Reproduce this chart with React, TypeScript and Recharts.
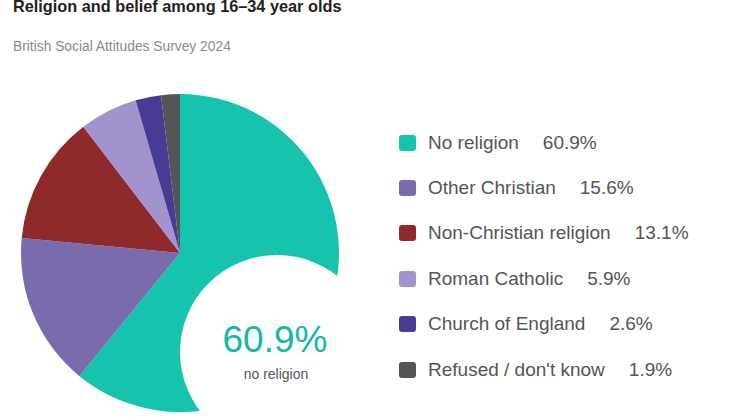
import React from "react";
import { PieChart, Pie, Cell } from "recharts";

const categories = [
  "No religion",
  "Other Christian",
  "Non-Christian religion",
  "Roman Catholic",
  "Church of England",
  "Refused / don't know",
];
const values = [60.9, 15.6, 13.1, 5.9, 2.6, 1.9];
const colors = ["#16C3AD", "#7A6BAC", "#8E2A2B", "#A293CE", "#473B93", "#555555"];
const title = "Religion and belief among 16–34 year olds";
const subtitle = "British Social Attitudes Survey 2024";
const highlightLabel = "no religion";

const data = categories.map((name, i) => ({ name, value: values[i], color: colors[i] }));

const FONT = "'Liberation Sans', Arial, sans-serif";

const LegendBlock = () => (
  <div style={{ position: "absolute", left: 399, top: 120, fontFamily: FONT }}>
    {data.map((d) => (
      <div key={d.name} style={{ display: "flex", alignItems: "center", height: 45.4 }}>
        <div
          style={{
            width: 17,
            height: 16,
            borderRadius: 3,
            background: d.color,
            marginRight: 12,
          }}
        />
        <span style={{ fontSize: 19, color: "#555555", whiteSpace: "pre" }}>{d.name}</span>
        <span style={{ fontSize: 19, color: "#555555", marginLeft: 24 }}>
          {d.value.toFixed(1)}%
        </span>
      </div>
    ))}
  </div>
);

const Overlay = () => (
  <svg
    width={744}
    height={418}
    style={{ position: "absolute", left: 0, top: 0, pointerEvents: "none" }}
  >
    <circle cx={277} cy={352} r={97} fill="#ffffff" />
    <text x={275} y={352} textAnchor="middle" fontFamily={FONT} fontSize={37} fill="#16B8A4">
      {values[0].toFixed(1)}%
    </text>
    <text x={276} y={379} textAnchor="middle" fontFamily={FONT} fontSize={14} fill="#555555">
      {highlightLabel}
    </text>
    <text x={13} y={12} fontFamily={FONT} fontSize={16.3} fontWeight="bold" fill="#222222">
      {title}
    </text>
    <text x={13} y={51} fontFamily={FONT} fontSize={13.8} fill="#8a8a8a">
      {subtitle}
    </text>
  </svg>
);

export default function App() {
  return (
    <div style={{ position: "absolute", left: 0, top: 0, width: 744, height: 418, background: "#fff" }}>
      <PieChart width={744} height={418} margin={{ top: 0, right: 0, bottom: 0, left: 0 }}>
        <Pie
          data={data}
          dataKey="value"
          nameKey="name"
          cx={180}
          cy={253}
          outerRadius={159}
          startAngle={90}
          endAngle={-270}
          stroke="none"
          isAnimationActive={false}
        >
          {data.map((d) => (
            <Cell key={d.name} fill={d.color} />
          ))}
        </Pie>
      </PieChart>
      <Overlay />
      <LegendBlock />
    </div>
  );
}
